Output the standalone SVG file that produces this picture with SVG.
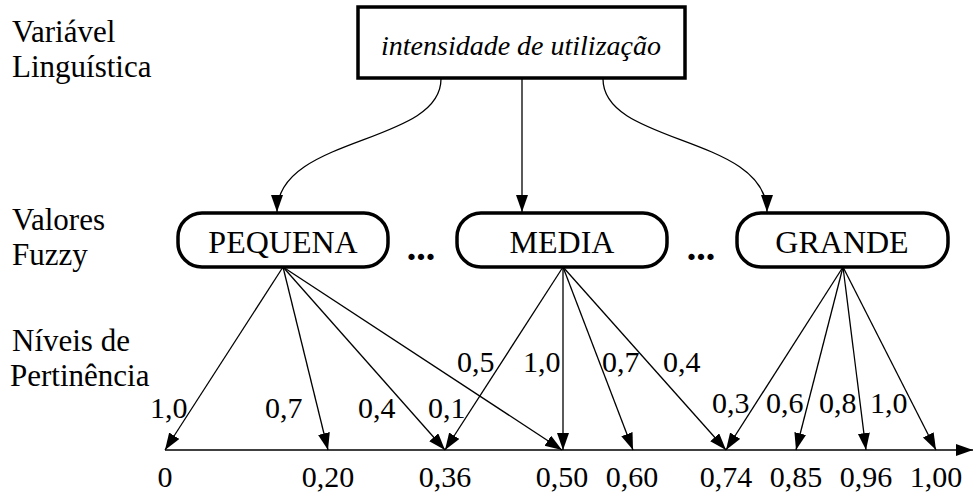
<svg xmlns="http://www.w3.org/2000/svg" width="974" height="495" viewBox="0 0 974 495">
<defs>
<style>
text{font-family:"Liberation Serif","Times New Roman",serif;font-size:30px;fill:#000}
.c{text-anchor:middle}
.w{font-size:32px}
.l{font-size:31px}
.it{font-style:italic;font-size:28px}
.box{fill:#fff;stroke:#000;stroke-width:3.5}
.e{fill:none;stroke:#000;stroke-width:1.3}
.dots{font-weight:bold;font-size:38px;text-anchor:middle}
</style>
<marker id="ah" markerUnits="userSpaceOnUse" markerWidth="18" markerHeight="13" refX="17" refY="6" orient="auto">
<path d="M0,0 L17,6 L0,12 z" fill="#000"/>
</marker>
</defs>
<rect width="974" height="495" fill="#fff"/>
<g id="labels">
<text class="l" x="12" y="42">Variável</text>
<text class="l" x="12" y="77">Linguística</text>
<text class="l" x="12" y="230">Valores</text>
<text class="l" x="12" y="265">Fuzzy</text>
<text class="l" x="12" y="351">Níveis de</text>
<text class="l" x="10" y="386">Pertinência</text>
</g>
<g id="connectors">
<path class="e" d="M441,79 C441,145 277,135 277,212" marker-end="url(#ah)"/>
<path class="e" d="M522,79 L522,212" marker-end="url(#ah)"/>
<path class="e" d="M603,79 C603,145 767,135 767,212" marker-end="url(#ah)"/>
<path class="e" d="M165,450 L973,450" marker-end="url(#ah)"/>
<path class="e" d="M283,267 L165,450" marker-end="url(#ah)"/>
<path class="e" d="M283,267 L328,450" marker-end="url(#ah)"/>
<path class="e" d="M283,267 L445,450" marker-end="url(#ah)"/>
<path class="e" d="M283,267 L562,450" marker-end="url(#ah)"/>
<path class="e" d="M563,267 L445,450" marker-end="url(#ah)"/>
<path class="e" d="M563,267 L563,450" marker-end="url(#ah)"/>
<path class="e" d="M563,267 L633,450" marker-end="url(#ah)"/>
<path class="e" d="M563,267 L726,450" marker-end="url(#ah)"/>
<path class="e" d="M843,267 L726,450" marker-end="url(#ah)"/>
<path class="e" d="M843,267 L796,450" marker-end="url(#ah)"/>
<path class="e" d="M843,267 L866,450" marker-end="url(#ah)"/>
<path class="e" d="M843,267 L936,450" marker-end="url(#ah)"/>
</g>
<g id="node-var">
<rect class="box" x="358" y="7" width="327" height="71"/>
<text class="it c" x="521" y="55">intensidade de utilização</text>
</g>
<g id="node-pequena">
<rect class="box" x="178" y="213" width="210" height="54" rx="24" ry="24"/>
<text class="c w" x="283" y="253">PEQUENA</text>
</g>
<g id="node-media">
<rect class="box" x="457" y="213" width="210" height="54" rx="24" ry="24"/>
<text class="c w" x="562" y="253">MEDIA</text>
</g>
<g id="node-grande">
<rect class="box" x="737" y="213" width="211" height="54" rx="24" ry="24"/>
<text class="c w" x="842" y="253">GRANDE</text>
</g>
<g id="ellipses">
<text class="dots" x="421" y="260">...</text>
<text class="dots" x="701" y="260">...</text>
</g>
<g id="edge-labels">
<text x="150" y="418">1,0</text>
<text x="265" y="418">0,7</text>
<text x="358" y="418">0,4</text>
<text x="428" y="418">0,1</text>
<text x="457" y="372">0,5</text>
<text x="523" y="372">1,0</text>
<text x="602" y="372">0,7</text>
<text x="663" y="372">0,4</text>
<text x="712" y="413">0,3</text>
<text x="766" y="413">0,6</text>
<text x="819" y="413">0,8</text>
<text x="870" y="413">1,0</text>
</g>
<g id="axis-labels">
<text class="c" x="165" y="487">0</text>
<text class="c" x="328" y="487">0,20</text>
<text class="c" x="445" y="487">0,36</text>
<text class="c" x="562" y="487">0,50</text>
<text class="c" x="632" y="487">0,60</text>
<text class="c" x="726" y="487">0,74</text>
<text class="c" x="796" y="487">0,85</text>
<text class="c" x="866" y="487">0,96</text>
<text class="c" x="936" y="487">1,00</text>
</g>
</svg>
